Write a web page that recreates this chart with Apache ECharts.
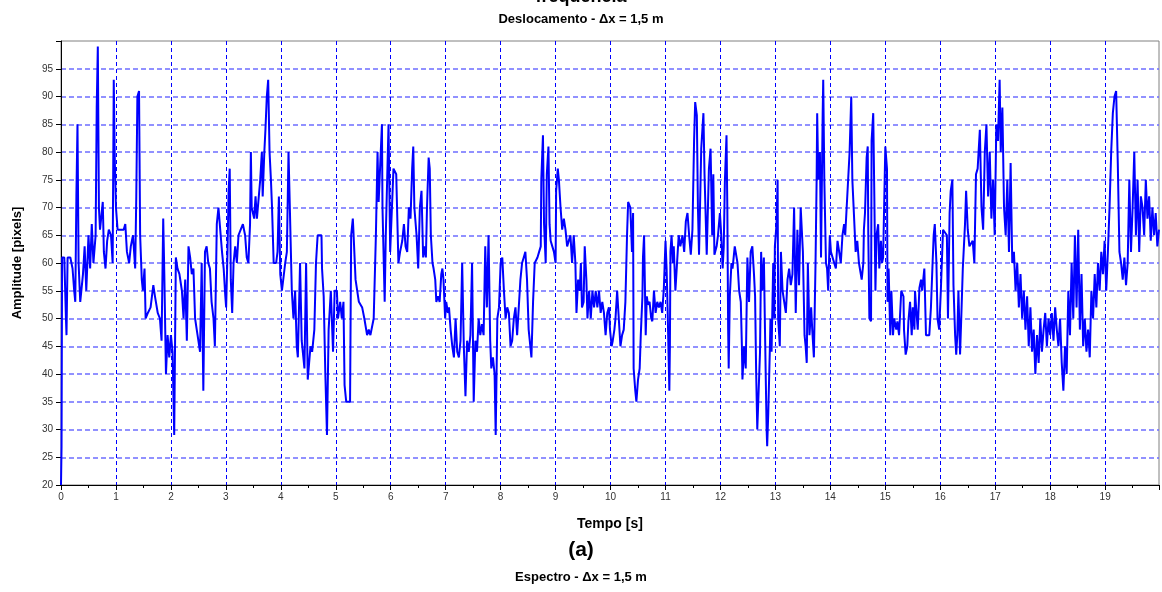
<!DOCTYPE html>
<html>
<head>
<meta charset="utf-8">
<script src="https://cdn.jsdelivr.net/npm/echarts@6/dist/echarts.min.js"></script>
<style>
  html, body { margin: 0; padding: 0; background: #fff; }
  #chart { width: 1162px; height: 592px; }
</style>
</head>
<body>
<div id="chart"></div>
<script>
// tempo (s) e amplitude (pixels)
const tempo = [
  0.00, 0.01, 0.02, 0.06, 0.09, 0.10, 0.12, 0.17, 0.21, 0.24, 0.26, 0.28, 0.30, 0.32, 0.35, 0.38, 0.40, 0.43, 0.46, 0.50,
  0.53, 0.56, 0.59, 0.61, 0.63, 0.65, 0.67, 0.69, 0.71, 0.73, 0.76, 0.78, 0.81, 0.84, 0.87, 0.91, 0.94, 0.96, 0.98, 1.00,
  1.03, 1.08, 1.14, 1.17, 1.20, 1.24, 1.27, 1.31, 1.35, 1.37, 1.39, 1.42, 1.44, 1.47, 1.49, 1.52, 1.54, 1.58, 1.63, 1.68,
  1.71, 1.76, 1.80, 1.83, 1.86, 1.88, 1.91, 1.94, 1.97, 2.00, 2.03,
  2.06, 2.09, 2.12, 2.155, 2.20, 2.23, 2.26, 2.29, 2.32, 2.35, 2.38, 2.41, 2.44, 2.47, 2.50, 2.53, 2.56, 2.59, 2.62, 2.65,
  2.68, 2.71, 2.74, 2.775, 2.80, 2.835, 2.865, 2.895, 2.93, 2.96, 2.99, 3.005, 3.03, 3.05, 3.07, 3.09, 3.115, 3.14, 3.17, 3.20,
  3.23, 3.27, 3.31, 3.35, 3.38, 3.41, 3.44, 3.455, 3.47, 3.49, 3.515, 3.54, 3.565, 3.595, 3.625, 3.655, 3.67, 3.70, 3.72, 3.745,
  3.77, 3.795, 3.82, 3.84, 3.87, 3.915, 3.94, 3.965, 3.99, 4.02, 4.05, 4.08, 4.11,
  4.14, 4.20, 4.23, 4.26, 4.29, 4.31, 4.35, 4.38, 4.43, 4.46, 4.49, 4.54, 4.57, 4.61, 4.64, 4.67, 4.74, 4.75, 4.78, 4.81,
  4.84, 4.87, 4.91, 4.95, 4.98, 5.02, 5.04, 5.08, 5.11, 5.14, 5.16, 5.19, 5.26, 5.28, 5.31, 5.32, 5.36, 5.42, 5.48, 5.52,
  5.57, 5.60, 5.63, 5.69, 5.73, 5.76, 5.78, 5.84, 5.85, 5.89, 5.91, 5.96, 5.99, 6.05, 6.10, 6.14, 6.17,
  6.21, 6.24, 6.27, 6.30, 6.33, 6.36, 6.39, 6.41, 6.43, 6.47, 6.50, 6.53, 6.56, 6.59, 6.61, 6.64, 6.66, 6.69, 6.71, 6.73,
  6.76, 6.78, 6.81, 6.83, 6.86, 6.89, 6.92, 6.94, 6.96, 6.99, 7.01, 7.04, 7.06, 7.09, 7.12, 7.15, 7.18, 7.21, 7.24, 7.27,
  7.30, 7.33, 7.36, 7.39, 7.42, 7.45, 7.48, 7.51, 7.54, 7.57, 7.60, 7.63, 7.66, 7.69, 7.72, 7.75, 7.78, 7.81, 7.83, 7.86,
  7.89, 7.91, 7.94, 7.97, 8.00, 8.03, 8.06, 8.09, 8.12, 8.15, 8.18, 8.21, 8.24,
  8.27, 8.30, 8.33, 8.36, 8.39, 8.42, 8.45, 8.48, 8.51, 8.54, 8.56, 8.59, 8.62, 8.65, 8.67, 8.70, 8.73, 8.74, 8.77, 8.79,
  8.82, 8.84, 8.87, 8.89, 8.91, 8.94, 8.97, 9.00, 9.01, 9.04, 9.06, 9.09, 9.12, 9.15, 9.18, 9.21, 9.24, 9.27, 9.30, 9.33,
  9.36, 9.38, 9.41, 9.44, 9.46, 9.48, 9.51, 9.53, 9.56, 9.58, 9.61, 9.64, 9.67, 9.70, 9.73, 9.76, 9.79, 9.82, 9.85, 9.88,
  9.91, 9.94, 9.97, 9.99, 10.02, 10.04, 10.07, 10.09, 10.12, 10.15, 10.18, 10.21, 10.24, 10.27, 10.30, 10.32,
  10.36, 10.39, 10.41, 10.42, 10.45, 10.47, 10.50, 10.53, 10.55, 10.58, 10.59, 10.61, 10.64, 10.66, 10.68, 10.71, 10.74, 10.76, 10.79, 10.82,
  10.85, 10.88, 10.91, 10.94, 10.97, 11.00, 11.02, 11.04, 11.07, 11.08, 11.09, 11.11, 11.135, 11.15, 11.18, 11.21, 11.24, 11.27, 11.31, 11.34,
  11.37, 11.40, 11.43, 11.46, 11.49, 11.52, 11.54, 11.57, 11.59, 11.61, 11.65, 11.69, 11.71, 11.75, 11.79, 11.82, 11.85, 11.87, 11.89, 11.93,
  11.955, 11.99, 12.015, 12.04, 12.06, 12.08, 12.11, 12.125, 12.14, 12.15, 12.17, 12.20, 12.22, 12.26, 12.28, 12.31, 12.34, 12.37, 12.39, 12.40, 12.43,
  12.46, 12.49, 12.52, 12.55, 12.58, 12.61, 12.63, 12.65, 12.67, 12.70, 12.72, 12.74, 12.76, 12.79, 12.81, 12.84, 12.85, 12.87, 12.90, 12.91,
  12.93, 12.96, 12.98, 12.99, 13.02, 13.04, 13.05, 13.08, 13.10, 13.13, 13.16, 13.19, 13.22, 13.25, 13.28, 13.31, 13.34, 13.37, 13.40, 13.43,
  13.46, 13.48, 13.50, 13.53, 13.55, 13.57, 13.59, 13.62, 13.65, 13.67, 13.70, 13.73, 13.75, 13.76, 13.78, 13.81, 13.83, 13.86, 13.87, 13.89,
  13.92, 13.94, 13.96, 13.99, 14.01, 14.04, 14.07, 14.10, 14.13, 14.16, 14.19, 14.22, 14.25, 14.27, 14.29, 14.35, 14.38, 14.40, 14.43, 14.46,
  14.49, 14.52,
  14.55, 14.57, 14.60, 14.61, 14.63, 14.66, 14.68, 14.69, 14.71, 14.74, 14.75, 14.78, 14.80, 14.82, 14.84, 14.87, 14.89, 14.92, 14.94, 14.96,
  14.98, 15.00, 15.03, 15.04, 15.06, 15.09, 15.11, 15.14, 15.16, 15.20, 15.22, 15.25, 15.29, 15.33, 15.34, 15.37, 15.40, 15.42, 15.45, 15.48,
  15.50, 15.53, 15.54, 15.56, 15.59, 15.62, 15.65, 15.67, 15.71, 15.74, 15.80, 15.83, 15.86, 15.88, 15.90, 15.93, 15.95, 15.98, 16.01, 16.05,
  16.08, 16.12, 16.14, 16.17, 16.19, 16.22, 16.24, 16.27, 16.29, 16.31, 16.33, 16.36, 16.38, 16.41, 16.45, 16.47, 16.50, 16.53, 16.56, 16.59,
  16.62, 16.65, 16.68, 16.72,
  16.75, 16.78, 16.81, 16.84, 16.87, 16.90, 16.93, 16.96, 16.99, 17.02, 17.05, 17.08, 17.10, 17.13, 17.16, 17.19, 17.22, 17.25, 17.28, 17.31,
  17.34, 17.37, 17.40, 17.43, 17.46, 17.49, 17.52, 17.55, 17.58, 17.61, 17.64, 17.67, 17.70, 17.73, 17.76, 17.79, 17.82, 17.85, 17.88, 17.91,
  17.94, 17.97, 18.00, 18.03, 18.06, 18.09, 18.12, 18.15, 18.18, 18.21, 18.24, 18.27, 18.30, 18.33, 18.36, 18.39, 18.42, 18.45, 18.48, 18.51,
  18.54, 18.57, 18.60, 18.63, 18.66, 18.69, 18.72, 18.75, 18.78, 18.81, 18.84, 18.87, 18.90, 18.93, 18.96, 18.99, 19.02, 19.05, 19.08, 19.11,
  19.14, 19.17, 19.20, 19.23, 19.26, 19.29, 19.32, 19.35, 19.38, 19.41, 19.44, 19.47, 19.50, 19.53, 19.56, 19.59, 19.62, 19.65, 19.68, 19.71,
  19.74, 19.77, 19.80, 19.83, 19.86, 19.89, 19.92, 19.95, 19.98
];

const amplitude = [
  20, 27, 61, 61, 50, 47, 61, 61, 59, 55, 53, 72, 85, 60, 53, 53, 58, 63, 55, 65,
  59, 67, 60, 60, 65, 88, 99, 70, 66, 68, 71, 62, 59, 64, 66, 65, 60, 93, 78, 70,
  66, 66, 66, 67, 62, 60, 63, 65, 59, 72, 90, 91, 65, 57, 55, 59, 50, 51, 52, 56,
  54, 51, 50, 46, 68, 58, 40, 47, 43, 47, 44,
  29, 61, 59, 58, 55, 50, 57, 46, 63, 61, 58, 59, 50, 48, 46, 44, 60, 37, 62, 63,
  60, 59, 53, 50, 45, 67, 70, 70, 62, 59, 54, 52, 62, 73, 77, 57, 51, 60, 63, 60,
  65, 66, 67, 65, 61, 60, 67, 80, 70, 70, 68, 72, 68, 68, 75, 80, 72, 80, 84, 90,
  93, 80, 75, 70, 60, 60, 62, 72, 58, 55, 55, 60, 62,
  80, 55, 50, 55, 45, 43, 60, 46, 41, 60, 39, 45, 44, 48, 60, 65, 65, 59, 54, 40,
  29, 48, 55, 44, 55, 55, 50, 53, 50, 53, 38, 35, 35, 65, 68, 66, 57, 53, 52, 50,
  47, 48, 47, 50, 65, 80, 71, 85, 70, 53, 65, 85, 62, 77, 76, 60, 62,
  64, 67, 63, 62, 70, 68, 77, 81, 70, 65, 59, 70, 73, 61, 63, 61, 70, 79, 77, 65,
  60, 59, 57, 53, 54, 53, 58, 59, 57, 50, 53, 51, 52, 48, 45, 43, 50, 44, 43, 46,
  60, 45, 36, 46, 44, 47, 60, 35, 46, 44, 50, 47, 49, 47, 63, 52, 65, 46, 41, 43,
  40, 29, 50, 52, 60, 61, 55, 50, 52, 51, 45, 46, 50,
  52, 47, 52, 57, 60, 61, 62, 57, 48, 45, 43, 53, 60, 60, 61, 62, 63, 75, 83, 67,
  60, 76, 81, 67, 64, 63, 62, 60, 73, 77, 75, 70, 66, 68, 66, 63, 63, 65, 60, 65,
  60, 51, 57, 55, 60, 52, 53, 63, 57, 50, 55, 50, 55, 52, 55, 52, 55, 51, 53, 51,
  47, 51, 52, 48, 45, 46, 48, 50, 55, 50, 45, 47, 48, 53, 65, 71,
  70, 62, 69, 41, 37, 35, 39, 41, 47, 54, 61, 65, 47, 54, 52.5, 53, 50, 49.5, 55, 51,
  53, 52, 53, 51, 55.5, 64, 59, 51, 37, 45, 62, 65, 60, 63, 55, 60, 65, 63, 65, 62,
  67.5, 69, 65, 61.5, 66, 82, 89, 86.6, 70, 61.5, 80.6, 87, 76, 61.5, 77, 80.6, 65, 76, 61.5, 63,
  65, 69, 65, 59, 63, 74.6, 83, 70, 48, 41, 54, 60, 59, 63, 63, 60, 55, 53, 45, 39, 45,
  41, 61, 53, 62, 63, 58, 54, 40, 30, 30, 44, 62, 55, 61, 48, 30, 27, 33, 45, 50,
  44, 60, 50, 63, 67, 75, 50, 45, 62, 55, 53, 51, 57, 59, 56, 58, 70, 51, 66, 56,
  70, 66, 62, 47, 45, 42, 60, 47, 52, 48, 43, 60, 75, 87, 75, 80, 61, 87, 93, 75,
  60, 59, 55, 65, 62, 62, 60, 59, 64, 64, 60, 65, 67, 65, 65, 80, 90, 75, 75, 62,
  64, 60,
  60, 57, 60, 66, 69, 79, 81, 65, 50, 49.5, 82, 87, 72, 55, 65, 67, 59, 64, 60, 61,
  61, 81, 77, 53, 59, 47, 55, 47, 50, 48, 49.5, 47, 55, 54, 48, 43.5, 45, 49.5, 53, 47,
  52, 48, 55, 52, 48, 55.5, 57, 55, 59, 47, 47, 52, 60, 65, 67, 60, 50, 48, 55, 66,
  66, 65, 50, 69, 73, 75, 56, 47, 43.5, 47, 55, 43.5, 49.5, 59, 67, 73, 66, 63, 63, 64,
  60, 76, 77, 84,
  70, 66, 80, 85, 72, 80, 68, 75, 65, 85, 82, 93, 80, 88, 70, 65, 75, 62, 78, 60,
  62, 55, 60, 52, 58, 50, 55, 48, 54, 45, 52, 44, 48, 40, 47, 42, 50, 44, 48, 51,
  45, 50, 47, 51, 46, 52, 48, 45, 50, 42, 37, 45, 40, 55, 47, 60, 50, 65, 52, 66,
  48, 58, 45, 50, 44, 48, 43, 55, 50, 58, 52, 60, 55, 62, 58, 64, 55, 62, 70, 80,
  87, 90, 91, 78, 62, 60, 57, 61, 56, 60, 75, 62, 70, 80, 65, 75, 62, 72, 70, 65,
  75, 68, 72, 64, 70, 65, 69, 63, 66, 61
];

const ticksY = [20, 25, 30, 35, 40, 45, 50, 55, 60, 65, 70, 75, 80, 85, 90, 95];

const serie = tempo.map((t, i) => [t, amplitude[i]]);

const chart = echarts.init(document.getElementById('chart'), null, { renderer: 'canvas' });

const fonte = '"Liberation Sans", Arial, sans-serif';

chart.setOption({
  animation: false,
  backgroundColor: '#ffffff',
  grid: {
    left: 61, right: 3, top: 41, bottom: 107,
    show: true, borderColor: '#808080', borderWidth: 1, backgroundColor: '#ffffff'
  },
  graphic: [
    { type: 'text', left: 'center', top: -12,
      style: { text: 'frequência', font: 'bold 18px ' + fonte, fill: '#000' } },
    { type: 'text', left: 'center', top: 13,
      style: { text: 'Deslocamento - Δx = 1,5 m', font: 'bold 13px ' + fonte, fill: '#000' } },
    { type: 'text', left: 'center', top: 540,
      style: { text: '(a)', font: 'bold 21px ' + fonte, fill: '#000' } },
    { type: 'text', left: 'center', top: 571,
      style: { text: 'Espectro - Δx = 1,5 m', font: 'bold 13px ' + fonte, fill: '#000' } }
  ],
  xAxis: {
    type: 'value',
    min: 0, max: 19.98, interval: 1,
    name: 'Tempo [s]',
    nameLocation: 'middle',
    nameGap: 32,
    nameTextStyle: { fontFamily: fonte, fontWeight: 'bold', fontSize: 14, color: '#000' },
    axisLine: { onZero: false, lineStyle: { color: '#000', width: 1 } },
    axisTick: { show: true, length: 5, lineStyle: { color: '#000' } },
    minorTick: { show: true, splitNumber: 2, length: 3, lineStyle: { color: '#000' } },
    axisLabel: {
      margin: 7, fontFamily: fonte, fontSize: 10, color: '#333',
      formatter: v => (Number.isInteger(v) ? String(v) : '')
    },
    splitLine: {
      show: true, showMinLine: false, showMaxLine: false,
      lineStyle: { color: '#0000ff', type: [4, 3], width: 1 }
    }
  },
  yAxis: {
    type: 'value',
    min: 20, max: 100, interval: 5,
    name: 'Amplitude [pixels]',
    nameLocation: 'middle',
    nameGap: 37,
    nameRotate: 90,
    nameTextStyle: { fontFamily: fonte, fontWeight: 'bold', fontSize: 13, color: '#000' },
    axisLine: { show: true, onZero: false, lineStyle: { color: '#000', width: 1 } },
    axisTick: { show: true, length: 5, lineStyle: { color: '#000' } },
    axisLabel: {
      margin: 8, fontFamily: fonte, fontSize: 10, color: '#333',
      formatter: v => (ticksY.indexOf(v) >= 0 ? String(v) : '')
    },
    splitLine: {
      show: true, showMinLine: false, showMaxLine: false,
      lineStyle: { color: '#6e6eff', type: [5, 3], width: 1.5 }
    }
  },
  series: [{
    type: 'line',
    name: 'Deslocamento',
    data: serie,
    showSymbol: false,
    symbol: 'none',
    lineStyle: { color: '#0000ff', width: 2 },
    itemStyle: { color: '#0000ff' }
  }]
});
</script>
</body>
</html>
